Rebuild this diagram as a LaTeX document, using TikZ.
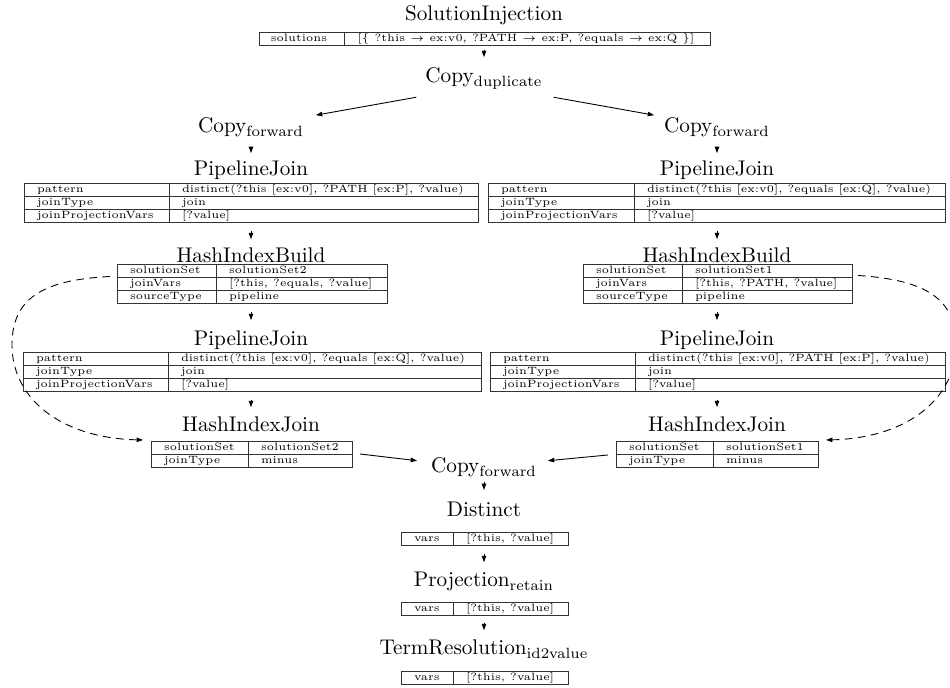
\documentclass[tikz,border=0pt]{standalone}
\usetikzlibrary{arrows.meta,calc,fit}

\tikzset{
  ttl/.style={inner sep=0pt, outer sep=0pt, text height=7pt, text depth=2pt, anchor=base, font=\normalsize},
  tabframe/.style={draw=black!80, line width=0.45pt, inner sep=0pt, outer sep=0pt},
  tabline/.style={draw=black!80, line width=0.45pt},
  tabcell/.style={inner sep=0pt, outer sep=0pt, anchor=base west, font=\tiny},
  arr/.style={-{Triangle[length=3pt,width=2.1pt]}, line width=0.42pt},
  reuse/.style={arr, dash pattern=on 3.6pt off 2.6pt},
}

% operator parameter table: name, left x, divider x, right x, top y, rows
\newcommand\optable[6]{%
  \node[tabframe, fit={(#2,#5) (#4,#5+13*#6)}] (#1) {};
  \coordinate (#1-div) at (#3,#5);
  \draw[tabline] (#3,#5) -- (#3,#5+13*#6);
  \ifnum#6>1 \foreach \r in {2,...,#6}{\draw[tabline] (#2,#5+13*\r-13) -- (#4,#5+13*\r-13);}\fi
}
% one key/value row of a table: table, row, key, value
\newcommand\kv[4]{%
  \node[tabcell] (#1-k#2) at ($(#1.north west)+(13,13*#2-3)$) {#3};
  \node[tabcell] (#1-v#2) at ($(#1-div)+(13,13*#2-3)$) {#4};
}

\begin{document}
\begin{tikzpicture}[x=0.4717pt, y=-0.4717pt]
\useasboundingbox (0,0) rectangle (950,688);

% source
\node[ttl] (sinj) at (484,21) {SolutionInjection};
\optable{t0}{259}{344}{710}{32}{1}
\node[tabcell, anchor=base] (t0-k1) at (299,42) {solutions};
\node[tabcell, anchor=base] (t0-v1) at (526,42) {[\{ ?this $\rightarrow$ ex:v0, ?PATH $\rightarrow$ ex:P, ?equals $\rightarrow$ ex:Q \}]};

\node[ttl] (cdup) at (484,83) {Copy$_{\mathrm{duplicate}}$};

% two branches
\node[ttl] (cfl) at (251,133) {Copy$_{\mathrm{forward}}$};
\node[ttl] (cfr) at (717,133) {Copy$_{\mathrm{forward}}$};

\node[ttl] (pjl) at (251,176) {PipelineJoin};
\optable{pjlt}{24}{169}{478}{183}{3}
\kv{pjlt}{1}{pattern}{distinct(?this [ex:v0], ?PATH [ex:P], ?value)}
\kv{pjlt}{2}{joinType}{join}
\kv{pjlt}{3}{joinProjectionVars}{[?value]}

\node[ttl] (pjr) at (717,176) {PipelineJoin};
\optable{pjrt}{488}{634}{945}{183}{3}
\kv{pjrt}{1}{pattern}{distinct(?this [ex:v0], ?equals [ex:Q], ?value)}
\kv{pjrt}{2}{joinType}{join}
\kv{pjrt}{3}{joinProjectionVars}{[?value]}

\node[ttl] (hbl) at (251,263) {HashIndexBuild};
\optable{hblt}{117}{216}{387}{264}{3}
\kv{hblt}{1}{solutionSet}{solutionSet2}
\kv{hblt}{2}{joinVars}{[?this, ?equals, ?value]}
\kv{hblt}{3}{sourceType}{pipeline}

\node[ttl] (hbr) at (717,263) {HashIndexBuild};
\optable{hbrt}{583}{682}{852}{264}{3}
\kv{hbrt}{1}{solutionSet}{solutionSet1}
\kv{hbrt}{2}{joinVars}{[?this, ?PATH, ?value]}
\kv{hbrt}{3}{sourceType}{pipeline}

\node[ttl] (pjl2) at (251,346) {PipelineJoin};
\optable{pjlt2}{23}{168}{481}{352}{3}
\kv{pjlt2}{1}{pattern}{distinct(?this [ex:v0], ?equals [ex:Q], ?value)}
\kv{pjlt2}{2}{joinType}{join}
\kv{pjlt2}{3}{joinProjectionVars}{[?value]}

\node[ttl] (pjr2) at (717,346) {PipelineJoin};
\optable{pjrt2}{490}{635}{945}{352}{3}
\kv{pjrt2}{1}{pattern}{distinct(?this [ex:v0], ?PATH [ex:P], ?value)}
\kv{pjrt2}{2}{joinType}{join}
\kv{pjrt2}{3}{joinProjectionVars}{[?value]}

\node[ttl] (hjl) at (251,432) {HashIndexJoin};
\optable{hjlt}{151}{248}{352}{441}{2}
\kv{hjlt}{1}{solutionSet}{solutionSet2}
\kv{hjlt}{2}{joinType}{minus}

\node[ttl] (hjr) at (717,432) {HashIndexJoin};
\optable{hjrt}{616}{713}{818}{441}{2}
\kv{hjrt}{1}{solutionSet}{solutionSet1}
\kv{hjrt}{2}{joinType}{minus}

% merge and tail
\node[ttl] (cfm) at (484,473) {Copy$_{\mathrm{forward}}$};

\node[ttl] (dst) at (484,517) {Distinct};
\optable{dstt}{401}{453}{568}{532}{1}
\kv{dstt}{1}{vars}{[?this, ?value]}

\node[ttl] (prj) at (484,587) {Projection$_{\mathrm{retain}}$};
\optable{prjt}{401}{453}{568}{602}{1}
\kv{prjt}{1}{vars}{[?this, ?value]}

\node[ttl] (trs) at (484,655) {TermResolution$_{\mathrm{id2value}}$};
\optable{trst}{401}{453}{568}{671}{1}
\kv{trst}{1}{vars}{[?this, ?value]}

% vertical flow
\draw[arr, shorten <=2.4pt, shorten >=5.2pt] (cdup.north |- t0.south) -- (cdup.north);
\draw[arr, shorten <=4.7pt, shorten >=3.8pt] (cfl.south) -- (pjl.north);
\draw[arr, shorten <=4.7pt, shorten >=3.8pt] (cfr.south) -- (pjr.north);
\draw[arr, shorten <=4.2pt, shorten >=4.2pt] (hbl.north |- pjlt.south) -- (hbl.north);
\draw[arr, shorten <=4.2pt, shorten >=4.2pt] (hbr.north |- pjrt.south) -- (hbr.north);
\draw[arr, shorten <=4.2pt, shorten >=5.2pt] (pjl2.north |- hblt.south) -- (pjl2.north);
\draw[arr, shorten <=4.2pt, shorten >=5.2pt] (pjr2.north |- hbrt.south) -- (pjr2.north);
\draw[arr, shorten <=4.2pt, shorten >=4.7pt] (hjl.north |- pjlt2.south) -- (hjl.north);
\draw[arr, shorten <=4.2pt, shorten >=4.7pt] (hjr.north |- pjrt2.south) -- (hjr.north);
\draw[arr, shorten <=2.4pt, shorten >=5.7pt] (cfm.south) -- (dst.north);
\draw[arr, shorten <=4.2pt, shorten >=4.7pt] (prj.north |- dstt.south) -- (prj.north);
\draw[arr, shorten <=3.8pt, shorten >=4.7pt] (trs.north |- prjt.south) -- (trs.north);

% split and merge
\draw[arr] ($(cdup.south west)+(-9,10)$) -- ($(cfl.north east)+(12,-3)$);
\draw[arr] ($(cdup.south east)+(11,10)$) -- ($(cfr.north west)+(-10,-3)$);
\draw[arr] ($(hjlt.east)+(8,0)$) -- ($(cfm.west)+(-14,-7)$);
\draw[arr] ($(hjrt.west)+(-8,1)$) -- ($(cfm.east)+(11,-7)$);

% hash index reuse
\draw[reuse] ($(hblt.west)+(-7,-7)$) .. controls (40,280) and (12,300) .. (12,345)
  .. controls (12,398) and (60,438) .. ($(hjlt.west)+(-8,-14)$);
\draw[reuse] ($(hbrt.east)+(6,-8)$) .. controls (928,280) and (956,300) .. (956,345)
  .. controls (956,398) and (908,438) .. ($(hjrt.east)+(8,-14)$);
\end{tikzpicture}
\end{document}
